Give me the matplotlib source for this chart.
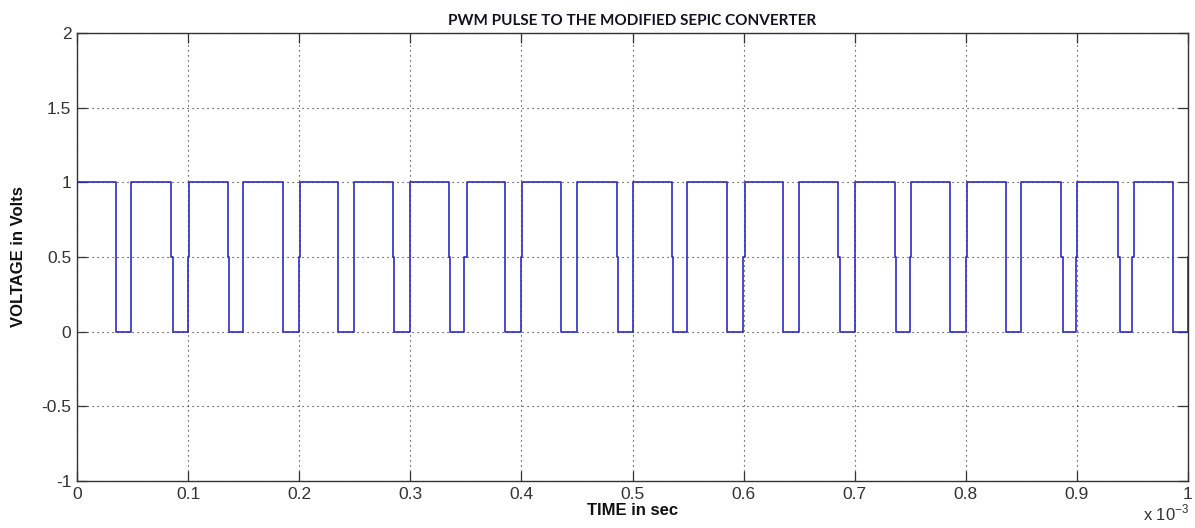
import matplotlib
matplotlib.use("Agg")
import matplotlib.pyplot as plt
import numpy as np

# PWM edge times, in microseconds.
# each edge is drawn in two steps through 0.5 (sampling jog), equal times = no jog
fall_hi = [35.4, 84.6, 135.6, 185.1, 235.1, 284.6, 334.7, 385.1, 435.4, 485.6,
           535.9, 585.4, 635.5, 684.9, 735.9, 786.1, 836.4, 885.9, 936.8, 986.3]
fall_lo = [35.4, 86.1, 137.0, 185.1, 235.1, 285.5, 335.8, 385.1, 435.4, 486.5,
           536.8, 585.4, 635.5, 686.5, 736.8, 786.1, 836.4, 887.4, 938.4, 986.3]
rise_lo = [48.9, 99.6, 149.1, 200.0, 249.5, 299.9, 348.5, 399.5, 449.6, 500.5,
           549.1, 599.8, 649.8, 700.6, 749.4, 800.4, 849.9, 899.4, 949.8, 1000.0]
rise_hi = [48.9, 100.5, 149.1, 200.9, 249.5, 299.9, 350.6, 400.6, 449.6, 500.5,
           549.1, 601.3, 649.8, 700.6, 750.9, 801.3, 849.9, 900.3, 951.2, 1000.0]
v_high = 1.0
v_mid = 0.5
v_low = 0.0

x_ticks = [0, 0.1, 0.2, 0.3, 0.4, 0.5, 0.6, 0.7, 0.8, 0.9, 1]
x_labels = ['0', '0.1', '0.2', '0.3', '0.4', '0.5', '0.6', '0.7', '0.8', '0.9', '1']
y_ticks = [-1, -0.5, 0, 0.5, 1, 1.5, 2]
y_labels = ['-1', '-0.5', '0', '0.5', '1', '1.5', '2']

# build the step trace
t = [0.0]
v = [v_high]
for k in range(len(fall_hi)):
    t += [fall_hi[k], fall_hi[k], fall_lo[k], fall_lo[k]]
    v += [v_high, v_mid, v_mid, v_low]
    if k == len(fall_hi) - 1:
        # last sample only reaches halfway
        t += [rise_lo[k], rise_lo[k]]
        v += [v_low, v_mid]
    else:
        t += [rise_lo[k], rise_lo[k], rise_hi[k], rise_hi[k]]
        v += [v_low, v_mid, v_mid, v_high]
t = np.array(t) * 1e-6
v = np.array(v)

plt.rcParams['font.family'] = ['Liberation Sans', 'DejaVu Sans']
plt.rcParams['mathtext.fontset'] = 'custom'
plt.rcParams['mathtext.rm'] = 'Liberation Sans'

fig = plt.figure(figsize=(11.95, 5.28), dpi=100)
ax = fig.add_axes([77 / 1195, 1 - 481 / 528, (1188 - 77) / 1195, (481 - 33) / 528])

ax.plot(t, v, color='#2b2bc8', linewidth=1.2)

ax.set_xlim(0, 1e-3)
ax.set_ylim(-1, 2)
ax.set_xticks([x * 1e-3 for x in x_ticks])
ax.set_xticklabels(x_labels)
ax.set_yticks(y_ticks)
ax.set_yticklabels(y_labels)
ax.tick_params(direction='in', length=7.5, width=0.9, color='#333333',
               labelsize=12.5, labelcolor='#333333', top=True, right=True, pad=4)
ax.grid(True, color='#222222', linestyle=(0, (1, 3.5)), linewidth=0.8)
for s in ax.spines.values():
    s.set_color('#333333')
    s.set_linewidth(1.0)

ax.set_title('PWM PULSE TO THE MODIFIED SEPIC CONVERTER', fontfamily='Lato',
             fontweight='bold', fontsize=11, color='#111122', pad=6)
ax.set_xlabel('TIME in sec', fontweight='bold', fontsize=12, color='#111111', labelpad=1)
ax.set_ylabel('VOLTAGE in Volts', fontweight='bold', fontsize=12, color='#111111', labelpad=11)
fig.text(1143 / 1195, 1 - 520 / 528, r'x 10$^{-3}$', fontsize=12, color='#333333',
         va='baseline')

fig.savefig('out.png', dpi=100)
